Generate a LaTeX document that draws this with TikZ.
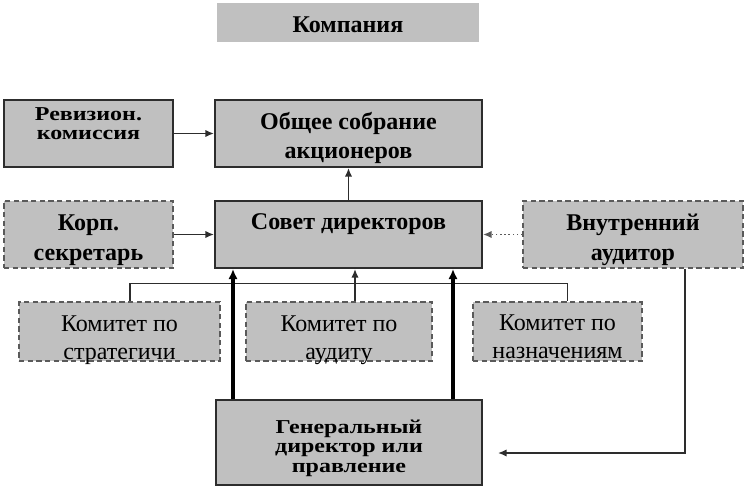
\documentclass[tikz,border=0pt]{standalone}
\usepackage{fontspec}
\setmainfont{Liberation Serif}
\usepackage{graphicx}
\definecolor{BoxGray}  {RGB}{192, 192, 192}
\definecolor{EdgeDark} {RGB}{45,  45,  45}
\definecolor{EdgeDash} {RGB}{90,  90,  90}
\usetikzlibrary{arrows.meta}
\newcommand{\squash}[2][0.82]{\scalebox{1}[#1]{#2}}

\begin{document}
\begin{tikzpicture}[
  x=0.75pt, y=-0.75pt,
  box/.style={
    fill=BoxGray, inner sep=0pt},
  solidbox/.style={box,
    draw=EdgeDark, line width=1.5pt},
  dashbox/.style={box,
    draw=EdgeDash, line width=1.1pt,
    dash pattern=on 4pt off 2.5pt},
  boldtext/.style={
    align=center, inner sep=0pt,
    font=\fontsize{18}{22}\selectfont\bfseries},
  normtext/.style={
    align=center, inner sep=0pt,
    font=\fontsize{18}{21}\selectfont},
  arrow/.style={
    -{Latex[length=6.5pt, width=5.5pt]},
    line width=1.1pt, EdgeDark},
  thickarrow/.style={
    -{Latex[length=7.5pt, width=7pt]},
    line width=3pt, black},
  dotarrow/.style={
    -{Latex[length=6.5pt, width=5.5pt]},
    line width=1.1pt, dotted, EdgeDash}
]
\useasboundingbox (0,0) rectangle (744,489);

% top row
\node[box, minimum width=196.5pt, minimum height=29.25pt]
  (comp) at (348,22.5) {};
\node[boldtext] (comp-t) at (348,25) {Компания};

\node[solidbox, minimum width=126.75pt, minimum height=50.25pt]
  (rev) at (88.5,133.5) {};
\node[boldtext, font=\fontsize{18}{13.8}\selectfont\bfseries]
  (rev-t) at (88.5,123.5)
  {\squash{Ревизион.}\\\squash{комиссия}};

\node[solidbox, minimum width=200.25pt, minimum height=50.25pt]
  (obs) at (348.5,133.5) {};
\node[boldtext, font=\fontsize{18}{21.75}\selectfont\bfseries]
  (obs-t) at (348.5,138) {Общее собрание\\акционеров};

% middle row
\node[dashbox, minimum width=126.75pt, minimum height=50.25pt]
  (korp) at (88.5,234.5) {};
\node[boldtext, font=\fontsize{18}{22.5}\selectfont\bfseries]
  (korp-t) at (88.5,240.5) {Корп.\\секретарь};

\node[solidbox, minimum width=200.25pt, minimum height=50.25pt]
  (sovet) at (348.5,234.5) {};
\node[boldtext] (sovet-t) at (348.5,224) {Совет директоров};

\node[dashbox, minimum width=165pt, minimum height=50.25pt]
  (aud) at (633,234.5) {};
\node[boldtext, font=\fontsize{18}{22.5}\selectfont\bfseries]
  (aud-t) at (633,240) {Внутренний\\аудитор};

% committees
\node[dashbox, minimum width=150.75pt, minimum height=44.25pt]
  (k1) at (119.5,331.5) {};
\node[normtext] (k1-t) at (119.5,340) {Комитет по\\стратегичи};

\node[dashbox, minimum width=139.5pt, minimum height=44.25pt]
  (k2) at (339,331.5) {};
\node[normtext] (k2-t) at (339,340) {Комитет по\\аудиту};

\node[dashbox, minimum width=126.75pt, minimum height=44.25pt]
  (k3) at (557.5,331.5) {};
\node[normtext] (k3-t) at (557.5,337) {Комитет по\\назначениям};

% bottom
\node[solidbox, minimum width=199.5pt, minimum height=63.75pt]
  (gd) at (349,442.5) {};
\node[boldtext, font=\fontsize{18}{14.5}\selectfont\bfseries]
  (gd-t) at (349,448)
  {\squash{Генеральный}\\\squash{директор или}\\\squash{правление}};

% connectors
\draw[arrow] (rev) -- (obs);
\draw[arrow] (korp) -- (sovet);
\draw[arrow] (sovet) -- (obs);
\draw[dotarrow] (aud) -- (sovet);

\draw[line width=1.1pt, EdgeDark] (k1.north) ++(10.5,0) coordinate (kb1)
  -- ++(0,-18) -| ([xshift=7.5pt]k3.north);
\draw[arrow] (k2.north) ++(16,0) coordinate (ka)
  -- (ka |- sovet.south);

\draw[thickarrow] (gd.north) ++(-116,0) coordinate (gl)
  -- (gl |- sovet.south);
\draw[thickarrow] (gd.north) ++(104,0) coordinate (gr)
  -- (gr |- sovet.south);

\draw[arrow] (aud.south) ++(52,0) coordinate (ad)
  |- ([shift={(15,10.5)}]gd.east);

\end{tikzpicture}
\end{document}
